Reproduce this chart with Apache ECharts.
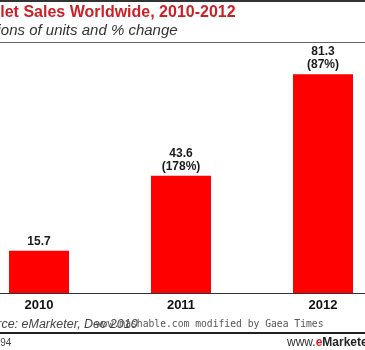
<!DOCTYPE html>
<html><head><meta charset="utf-8">
<script src="https://cdn.jsdelivr.net/npm/echarts@6/dist/echarts.min.js"></script>
<style>html,body{margin:0;padding:0;background:#fff}#c{width:365px;height:350px}</style>
</head><body><div id="c"></div>
<script>
var categories = ['2010', '2011', '2012'];
var sales = [15.7, 43.6, 81.3];
var pctChange = [null, 178, 87];

var chart = echarts.init(document.getElementById('c'), null, {renderer: 'canvas'});
chart.setOption({
  animation: false,
  backgroundColor: '#ffffff',
  grid: {left: -32, right: -29, top: 24, bottom: 57, containLabel: false, outerBoundsMode: 'none'},
  xAxis: {
    type: 'category', data: categories,
    axisLine: {lineStyle: {color: '#333', width: 1}},
    axisTick: {show: false},
    axisLabel: {color: '#111', fontFamily: 'Liberation Sans, Arial', fontWeight: 'bold', fontSize: 13, margin: 6}
  },
  yAxis: {type: 'value', min: 0, max: 100, show: false, splitLine: {show: false}},
  series: [{
    type: 'bar', barWidth: 60,
    data: sales,
    itemStyle: {color: '#ff0000'},
    label: {
      show: true, position: 'top', distance: 3,
      color: '#1a1a1a', fontFamily: 'Liberation Sans, Arial', fontWeight: 'bold', fontSize: 12, lineHeight: 13,
      formatter: function (p) {
        var c = pctChange[p.dataIndex];
        return c == null ? String(p.value) : p.value + '\n(' + c + '%)';
      }
    }
  }],
  graphic: [
    {type: 'rect', shape: {x: 0, y: 0, width: 365, height: 2}, style: {fill: '#333'}},
    {type: 'text', left: -27, top: 5, style: {text: 'Tablet Sales Worldwide, 2010-2012', fill: '#cc1f26', font: 'bold 16px "Liberation Sans", Arial'}},
    {type: 'text', left: -25, top: 23, style: {text: 'Millions of units and % change', fill: '#333', font: 'italic 15px "Liberation Sans", Arial'}},
    {type: 'rect', shape: {x: 0, y: 42, width: 365, height: 1}, style: {fill: '#666'}},
    {type: 'text', left: -25, top: 318, style: {text: 'Source: eMarketer, Dec 2010', fill: '#444', font: 'italic 12.5px "Liberation Sans", Arial'}},
    {type: 'text', left: 96, top: 319, style: {text: 'www.mashable.com modified by Gaea Times', fill: '#555', font: '9.7px "DejaVu Sans Mono", monospace'}},
    {type: 'rect', shape: {x: 0, y: 332, width: 365, height: 2}, style: {fill: '#222'}},
    {type: 'text', left: -22, top: 338, style: {text: '122994', fill: '#444', font: '10px "Liberation Sans", Arial'}},
    {type: 'text', left: 287, top: 337, style: {
      text: '{w|www.}{e|e}{m|Marketer.com}',
      rich: {
        w: {fill: '#333', font: '12px "Liberation Sans", Arial'},
        e: {fill: '#e31b23', font: 'bold 12px "Liberation Sans", Arial'},
        m: {fill: '#222', font: 'bold 12px "Liberation Sans", Arial'}
      }
    }}
  ]
});
</script></body></html>
